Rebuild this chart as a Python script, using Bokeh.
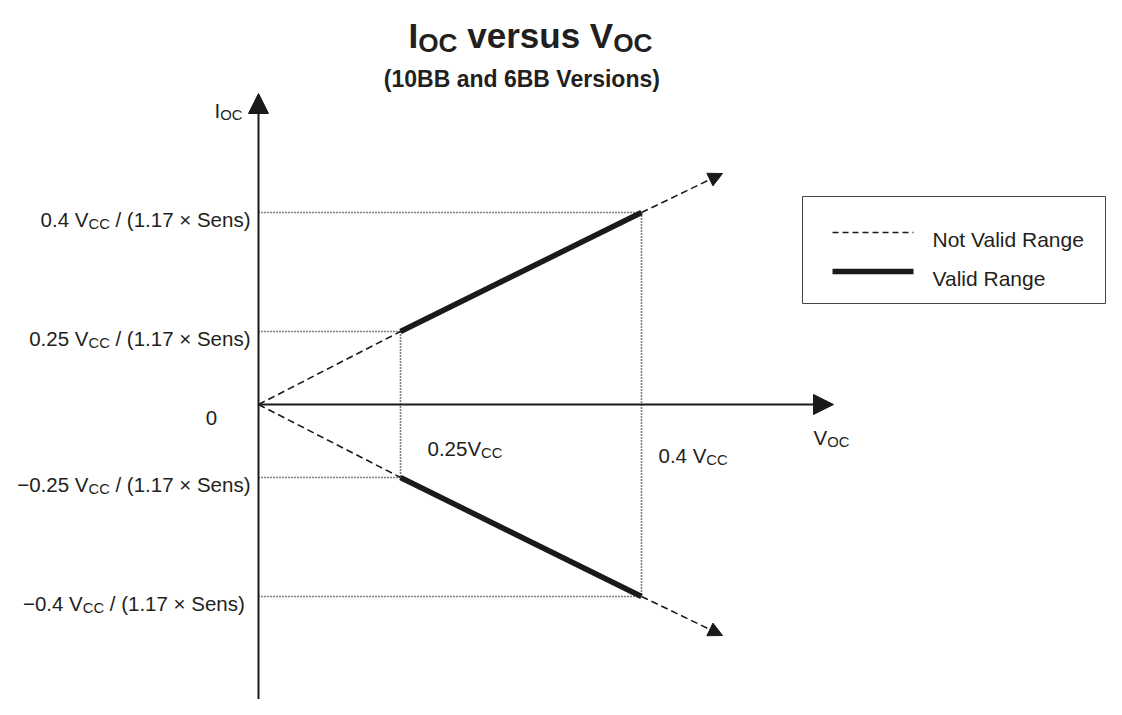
from bokeh.plotting import figure
from bokeh.models import Range1d, Arrow, NormalHead
from bokeh.core.properties import value
from bokeh.embed import file_html
from bokeh.resources import INLINE

# ---------------- data (schematic units, origin at 0,0) ----------------
voc_marks = [142, 383]                     # positions of 0.25 Vcc and 0.4 Vcc on the V_OC axis
voc_labels = [["0.25V", "CC"], ["0.4 V", "CC"]]
ioc_marks = [192, 73, -73, -192]           # positions of the I_OC levels
ioc_label_head = ["0.4 V", "0.25 V", "\u22120.25 V", "\u22120.4 V"]
ioc_label_tail = ["/ (1.17 \u00d7 Sens)", "/ (1.17 \u00d7 Sens)", "/ (1.17 \u00d7 Sens)", "/  (1.17 \u00d7 Sens)"]
valid_x = [[142, 383], [142, 383]]          # valid range segments
valid_y = [[73, 192], [-73, -192]]
invalid_x = [[0, 142], [0, 142]]            # not valid range (from origin)
invalid_y = [[0, 73], [0, -73]]
ext_start = [(383, 192), (383, -192)]       # not valid range beyond the valid range
ext_end = [(464, 231), (464, -231)]
axis_x_end = 575
axis_y_top = 311
axis_y_bottom = -320
legend_labels = ["Not Valid Range", "Valid Range"]
title_parts = [("I", False), ("OC", True), (" versus V", False), ("OC", True)]
subtitle = "(10BB and 6BB Versions)"

# ---------------- figure ----------------
W, H = 1106, 699
p = figure(width=W, height=H, x_range=Range1d(-258, 848), y_range=Range1d(-295, 404),
           output_backend="svg", toolbar_location=None,
           x_axis_location=None, y_axis_location=None, min_border=0)
p.grid.grid_line_color = None
p.outline_line_color = None
p.background_fill_color = "white"

FONT = value("Liberation Sans")
TXT = "#231f20"
LINE = "#1a1a1a"

REG = {' ': 278, '.': 278, '/': 278, '(': 333, ')': 333, '\u00d7': 584, '\u2212': 584,
       'A': 667, 'B': 667, 'C': 722, 'I': 278, 'N': 722, 'O': 778, 'R': 722, 'S': 667, 'V': 667,
       'a': 556, 'd': 556, 'e': 556, 'g': 556, 'i': 222, 'l': 222, 'n': 556, 'o': 556,
       'r': 333, 's': 500, 't': 278, 'u': 556, 'v': 500}
BOLD = {' ': 278, '(': 333, ')': 333, 'B': 722, 'C': 722, 'I': 278, 'O': 778, 'V': 667,
        'a': 556, 'd': 611, 'e': 556, 'i': 278, 'n': 611, 'o': 611, 'r': 389, 's': 556,
        'u': 611, 'v': 556}


def tw(s, size, bold=False):
    t = BOLD if bold else REG
    return sum(t.get(c, 556) for c in s) * size / 1000.0


def rich(parts, x, y, size, align="left", bold=False, color=TXT, sub_scale=0.72):
    sub_size = size * sub_scale
    widths = [tw(s, sub_size if sub else size, bold) for s, sub in parts]
    total = sum(widths)
    if align == "left":
        x0 = x
    elif align == "right":
        x0 = x - total
    else:
        x0 = x - total / 2.0
    for (s, sub), w in zip(parts, widths):
        sz = sub_size if sub else size
        lead = len(s) - len(s.lstrip(" "))
        xs = x0 + tw(" " * lead, sz, bold)
        p.text(x=[xs], y=[y - (0.22 * size if sub else 0)], text=[s.strip(" ")],
               text_font=FONT, text_font_size=f"{sz:.1f}px",
               text_font_style="bold" if bold else "normal",
               text_align="left", text_baseline="alphabetic", text_color=color)
        x0 += w


# ---------------- dotted guide lines ----------------
for vx, vy_top, vy_bot in [(voc_marks[0], ioc_marks[1], ioc_marks[2]),
                           (voc_marks[1], ioc_marks[0], ioc_marks[3])]:
    p.line([vx, vx], [vy_top, vy_bot], line_color="#000000", line_width=1.6, line_dash="1 2")
for hy, hx in zip(ioc_marks, [voc_marks[1], voc_marks[0], voc_marks[0], voc_marks[1]]):
    p.line([0, hx], [hy, hy], line_color="#000000", line_width=1.6, line_dash="1 2")

# ---------------- axes ----------------
p.add_layout(Arrow(x_start=0, y_start=0, x_end=axis_x_end, y_end=0,
                   line_color=LINE, line_width=2,
                   end=NormalHead(size=20, fill_color=LINE, line_color=LINE, line_width=1)))
p.add_layout(Arrow(x_start=0, y_start=axis_y_bottom, x_end=0, y_end=axis_y_top,
                   line_color=LINE, line_width=2,
                   end=NormalHead(size=20, fill_color=LINE, line_color=LINE, line_width=1)))

# ---------------- characteristic lines ----------------
p.multi_line(invalid_x, invalid_y, line_color=LINE, line_width=1.6, line_dash="7 4")
for (x0, y0), (x1, y1) in zip(ext_start, ext_end):
    p.add_layout(Arrow(x_start=x0, y_start=y0, x_end=x1, y_end=y1,
                       line_color=LINE, line_width=1.6, line_dash="7 4",
                       end=NormalHead(size=14, fill_color=LINE, line_color=LINE, line_width=1)))
p.multi_line(valid_x, valid_y, line_color=LINE, line_width=5.5)

# ---------------- labels ----------------
rich(title_parts, 272, 369, 35, align="center", bold=True, sub_scale=0.75)
rich([(subtitle, False)], 264, 326, 23, align="center", bold=True)

rich([("I", False), ("OC", True)], -44, 294, 20.5)
rich([("V", False), ("OC", True)], 555, -33, 20.5)
rich([("0", False)], -47, -13, 20.5, align="center")

for lvl, head, tail in zip(ioc_marks, ioc_label_head, ioc_label_tail):
    rich([(head, False), ("CC", True), (" " + tail, False)], -8, lvl - 7, 20.5, align="right")

for xm, parts, dy, off in zip(voc_marks, voc_labels, [-44, -51], [27, 17]):
    rich([(parts[0], False), (parts[1], True)], xm + off, dy, 20.5)

# ---------------- legend ----------------
p.quad(left=[544], right=[847], top=[208], bottom=[101], fill_color="white",
       line_color="#444444", line_width=1)
p.line([574, 655], [172, 172], line_color=LINE, line_width=1.5, line_dash="6 4")
p.line([574, 655], [133, 133], line_color=LINE, line_width=5.5)
rich([(legend_labels[0], False)], 674, 165, 21)
rich([(legend_labels[1], False)], 674, 126, 21)

open("out.html", "w").write(file_html(p, INLINE))
